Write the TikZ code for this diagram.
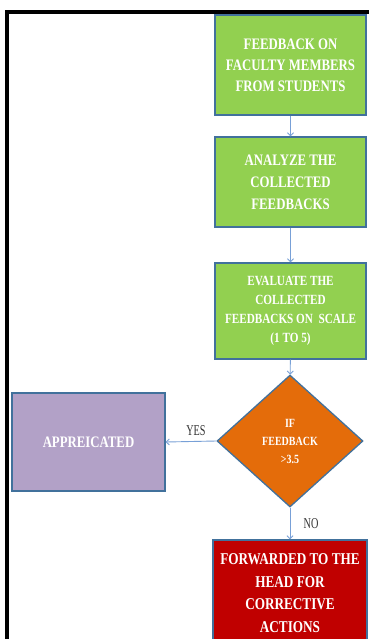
\documentclass[tikz,border=0pt]{standalone}
\usepackage{fontspec}
\setmainfont{Liberation Serif}
\newfontfamily\boxfont[FakeStretch=0.8]{Liberation Serif}
\newfontfamily\lblfont[FakeStretch=0.68]{Liberation Serif}
\usetikzlibrary{shapes.geometric,arrows.meta}
\definecolor{boxgreen}{RGB}{146,208,80}
\definecolor{boxpurple}{RGB}{178,161,199}
\definecolor{boxorange}{RGB}{228,108,10}
\definecolor{boxred}{RGB}{192,0,0}
\definecolor{edgeblue}{RGB}{65,113,156}
\definecolor{arrowblue}{RGB}{120,160,215}
\tikzset{
  stepbox/.style={draw=edgeblue, line width=1.3pt, rectangle, inner sep=0pt,
    text=white, align=center, font=\boxfont\bfseries},
  decbox/.style={draw=edgeblue, line width=1.3pt, diamond, inner sep=0pt,
    text=white, align=center, font=\boxfont\bfseries},
  flow/.style={draw=arrowblue, line width=0.9pt, -{Straight Barb[length=3pt,width=6pt]}},
  lbl/.style={text=black!80, font=\lblfont\fontsize{15}{17}\selectfont, inner sep=0pt}
}
\begin{document}
\begin{tikzpicture}[x=1pt,y=-1pt]
\useasboundingbox (0,0) rectangle (368,639);
\fill[white] (0,0) rectangle (368,639);
\draw[line width=4.3pt] (7,650) -- (7,12) -- (375,12);

\node[stepbox, fill=boxgreen, minimum width=151pt, minimum height=100pt,
  font=\boxfont\bfseries\fontsize{16}{21}\selectfont]
  (b1) at (290.5,65) {FEEDBACK ON\\FACULTY MEMBERS\\FROM STUDENTS};
\node[stepbox, fill=boxgreen, minimum width=151pt, minimum height=90pt,
  font=\boxfont\bfseries\fontsize{16}{22}\selectfont]
  (b2) at (290.5,182) {ANALYZE THE\\COLLECTED\\FEEDBACKS};
\node[stepbox, fill=boxgreen, minimum width=151pt, minimum height=96pt,
  font=\boxfont\bfseries\fontsize{14}{19}\selectfont]
  (b3) at (290.5,311) {EVALUATE THE\\COLLECTED\\FEEDBACKS ON \ SCALE\\(1 TO 5)};
\node[decbox, fill=boxorange, minimum width=146pt, minimum height=132pt,
  font=\boxfont\bfseries\fontsize{12.5}{18}\selectfont]
  (d) at (290,441) {IF\\FEEDBACK\\>3.5};
\node[stepbox, fill=boxpurple, minimum width=153pt, minimum height=98pt,
  font=\boxfont\bfseries\fontsize{16}{20}\selectfont]
  (ap) at (88.5,442) {APPREICATED};
\node[stepbox, fill=boxred, minimum width=154pt, minimum height=106pt,
  font=\boxfont\bfseries\fontsize{16.5}{22.5}\selectfont]
  (fw) at (290,593) {FORWARDED TO THE\\HEAD FOR\\CORRECTIVE\\ACTIONS};

\draw[flow] (b1) -- (b2);
\draw[flow] (b2) -- (b3);
\draw[flow] (b3) -- (d);
\draw[flow] (d.west) -- (ap.east);
\draw[flow] (d.south) -- (fw.north);

\node[lbl] (yes) at (196,431) {YES};
\node[lbl] (no) at (311,524) {NO};
\end{tikzpicture}
\end{document}
